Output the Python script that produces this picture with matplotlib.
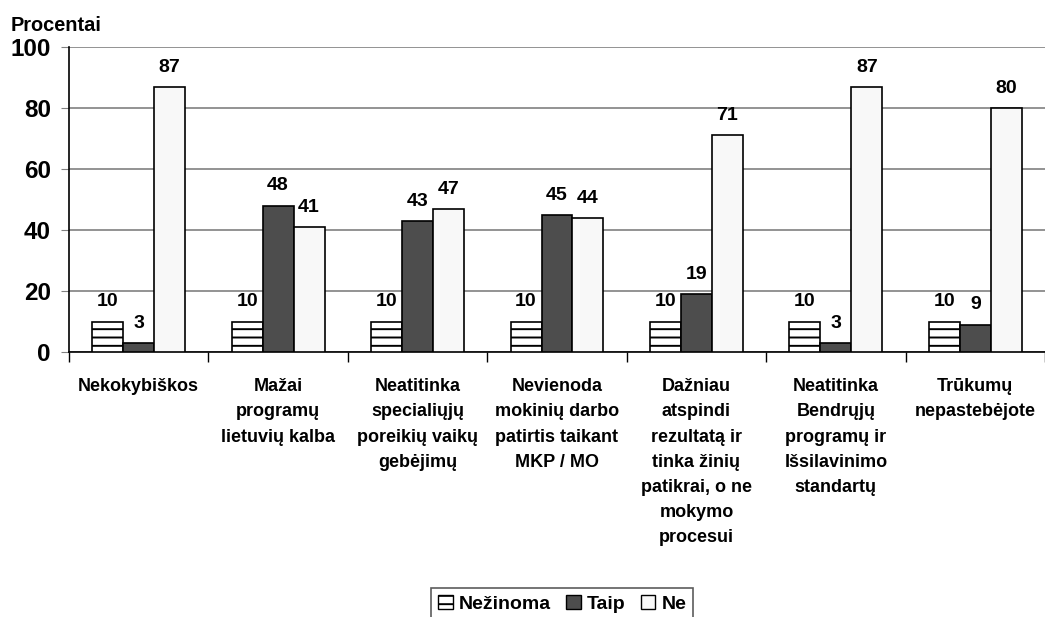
import matplotlib.pyplot as plt
import numpy as np
from matplotlib.patches import Patch

plt.rcParams['font.family'] = ['Liberation Sans', 'DejaVu Sans']
plt.rcParams['font.weight'] = 'bold'
plt.rcParams['hatch.linewidth'] = 1.4

categories = ['Nekokybiškos',
              'Mažai\nprogramų\nlietuvių kalba',
              'Neatitinka\nspecialiųjų\nporeikių vaikų\ngebėjimų',
              'Nevienoda\nmokinių darbo\npatirtis taikant\nMKP / MO',
              'Dažniau\natspindi\nrezultatą ir\ntinka žinių\npatikrai, o ne\nmokymo\nprocesui',
              'Neatitinka\nBendrųjų\nprogramų ir\nIšsilavinimo\nstandartų',
              'Trūkumų\nnepastebėjote']
nezinoma = [10, 10, 10, 10, 10, 10, 10]
taip = [3, 48, 43, 45, 19, 3, 9]
ne = [87, 41, 47, 44, 71, 87, 80]
series_names = ['Nežinoma', 'Taip', 'Ne']

fig = plt.figure(figsize=(10.45, 6.17), dpi=100)
ax = fig.add_axes([0.066, 0.4295, 0.934, 0.4943])

x = np.arange(len(categories))
w = 0.222
styles = [dict(facecolor='white', edgecolor='black', hatch='--'),
          dict(facecolor='#4d4d4d', edgecolor='black'),
          dict(facecolor='#f8f8f8', edgecolor='black')]

for i, (vals, st) in enumerate(zip([nezinoma, taip, ne], styles)):
    bars = ax.bar(x + (i - 1) * w, vals, w, linewidth=1.2, zorder=3, **st)
    for b, v in zip(bars, vals):
        ax.annotate(str(v), (b.get_x() + b.get_width() / 2, v), xytext=(0, 8),
                    textcoords='offset points', ha='center', va='bottom',
                    fontsize=14, fontweight='bold')

ax.set_xlim(-0.5, len(categories) - 0.5)
ax.set_ylim(0, 100)
ax.set_yticks([0, 20, 40, 60, 80, 100])
ax.yaxis.grid(True, color='#808080', linewidth=1.2, zorder=0)
ax.tick_params(axis='y', labelsize=17.5, length=6, color='#808080', pad=7)

ax.set_xticks(np.arange(len(categories) + 1) - 0.5)
ax.set_xticklabels([])
ax.set_xticks(x, minor=True)
ax.set_xticklabels(categories, minor=True, fontsize=13, linespacing=1.62, va='top')
ax.tick_params(axis='x', which='major', length=7, color='black', width=1)
ax.tick_params(axis='x', which='minor', length=0, pad=19)

for s in ['top', 'right']:
    ax.spines[s].set_visible(False)
ax.spines['left'].set_linewidth(1.2)
ax.spines['bottom'].set_linewidth(1.2)

fig.text(0.01, 0.95, 'Procentai', fontsize=14.4, fontweight='bold')

handles = [Patch(label=n, linewidth=1, **st) for n, st in zip(series_names, styles)]
leg = fig.legend(handles=handles, loc='lower center', bbox_to_anchor=(0.538, -0.02), ncol=3,
                 fontsize=14, frameon=True, fancybox=False, edgecolor='#333333',
                 handlelength=0.75, handleheight=0.75, handletextpad=0.3, columnspacing=0.8,
                 borderpad=0.35)
leg.get_frame().set_linewidth(1.2)

fig.savefig('out.png', dpi=100)
